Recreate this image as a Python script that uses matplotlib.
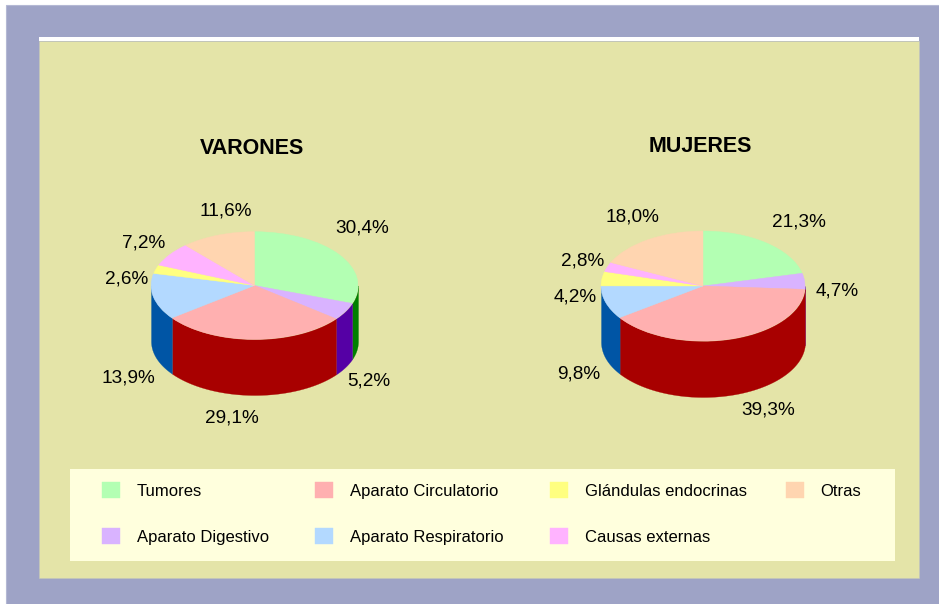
import numpy as np
import matplotlib
matplotlib.use("Agg")
import matplotlib.pyplot as plt
from matplotlib.patches import Rectangle

plt.rcParams['font.family'] = ['Liberation Sans', 'DejaVu Sans']

categories = ["Tumores", "Aparato Digestivo", "Aparato Circulatorio", "Aparato Respiratorio",
              "Glándulas endocrinas", "Causas externas", "Otras"]
varones = [30.4, 5.2, 29.1, 13.9, 2.6, 7.2, 11.6]
mujeres = [21.3, 4.7, 39.3, 9.8, 4.2, 2.8, 18.0]

top_colors = ["#B3FFB3", "#D9B3FF", "#FFB0B0", "#B3D9FF", "#FFFF80", "#FFB3FF", "#FFD5B0"]
side_colors = ["#008000", "#5500A5", "#A80000", "#0055A5", "#A5A500", "#A500A5", "#A55500"]

W, H = 939, 604
fig = plt.figure(figsize=(W / 100, H / 100), dpi=100, facecolor="white")

# background, everything in pixels
bg = fig.add_axes([0, 0, 1, 1])
bg.set_xlim(0, W)
bg.set_ylim(H, 0)
bg.axis("off")
bg.add_patch(Rectangle((6, 5), W, H, fc="#9EA3C6", ec="#B4B8D4", lw=0.8))
bg.add_patch(Rectangle((39, 37), 880, 4, fc="white", ec="none"))
bg.add_patch(Rectangle((39, 41), 880, 537, fc="#E4E4A8", ec="#C4C8BC", lw=0.4))
bg.add_patch(Rectangle((70, 469), 825, 92, fc="#FFFFDD", ec="none"))


def draw_pie(values, cx, cy, rx, ry, depth):
    # axes box holds the top ellipse plus the side wall below it
    ax = fig.add_axes([(cx - rx) / W, 1 - (cy + ry + depth) / H, 2 * rx / W, (2 * ry + depth) / H])
    wedges, _ = ax.pie(values, colors=top_colors, startangle=90, counterclock=False, radius=1)
    for w in wedges:
        w.set_edgecolor(w.get_facecolor())
        w.set_linewidth(0.3)
    ax.set_aspect("auto")
    ax.set_xlim(-1, 1)
    d = depth / ry
    ax.set_ylim(-1 - d, 1)
    # side wall: only the front half of the ellipse is visible
    edges = np.cumsum([0] + list(values)) / sum(values) * 2 * np.pi
    for i in range(len(values)):
        lo = max(edges[i], np.pi / 2)
        hi = min(edges[i + 1], 3 * np.pi / 2)
        if hi <= lo:
            continue
        t = np.linspace(lo, hi, 80)
        x = np.sin(t)
        y = np.cos(t)
        ax.fill_between(x, y, y - d, color=side_colors[i], lw=0.2, zorder=0)
    return wedges


wedges = draw_pie(varones, 254.5, 285.5, 103.5, 53.8, 55.7)
draw_pie(mujeres, 703, 286, 102, 55, 56)

# percent labels
var_label_x = [362, 369, 232, 128, 127, 144, 226]
var_label_y = [228, 381, 418, 378, 279, 243, 211]
muj_label_x = [799, 837, 768, 579, 575, 583, 632]
muj_label_y = [222, 291, 410, 374, 297, 261, 217]

for v, x, y in zip(varones, var_label_x, var_label_y):
    bg.text(x, y, f"{v:.1f}%".replace(".", ","), fontsize=13.7, ha="center", va="center", color="black")
for v, x, y in zip(mujeres, muj_label_x, muj_label_y):
    bg.text(x, y, f"{v:.1f}%".replace(".", ","), fontsize=13.7, ha="center", va="center", color="black")

bg.text(252, 148, "VARONES", fontsize=15.5, fontweight="bold", ha="center", va="center", color="black")
bg.text(700, 147, "MUJERES", fontsize=15.5, fontweight="bold", ha="center", va="center", color="black")

# two legends so the last column can sit where the reference has it
leg_style = dict(frameon=False, fontsize=12, loc="upper left", borderpad=0, borderaxespad=0,
                 handlelength=1.08, handleheight=1.08, handletextpad=1.0,
                 columnspacing=2.8, labelspacing=1.78, labelcolor="black")
fig.legend(wedges[:6], categories[:6], ncol=3, bbox_to_anchor=(102 / W, 1 - 482 / H), **leg_style)
fig.legend(wedges[6:], categories[6:], ncol=1, bbox_to_anchor=(786 / W, 1 - 482 / H), **leg_style)

fig.savefig("out.png", dpi=100, facecolor=fig.get_facecolor())
